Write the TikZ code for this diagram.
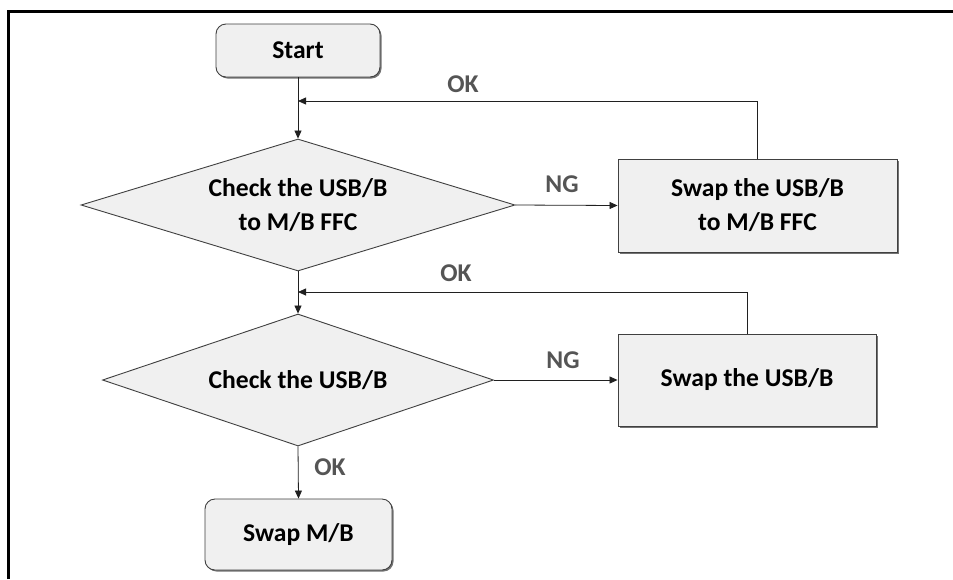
\documentclass[tikz,border=0pt]{standalone}
\usepackage{fontspec}
\setmainfont{Carlito}
\usetikzlibrary{shapes.geometric,arrows.meta,shadows}
\definecolor{boxfill}{HTML}{F0F0F0}
\definecolor{edgec}{HTML}{404040}
\definecolor{lblc}{HTML}{555555}
\definecolor{linec}{HTML}{202020}
\begin{document}
\begin{tikzpicture}[x=1pt,y=-1pt,
  base/.style={draw=edgec, line width=0.9pt, fill=boxfill, text=black,
    font=\fontsize{25.6}{34}\selectfont\bfseries, align=center, inner sep=0pt},
  shadowed/.style={drop shadow={shadow xshift=1.5pt, shadow yshift=-1.5pt, fill=black!55, opacity=1}},
  term/.style={base, rectangle, rounded corners=10pt, shadowed},
  proc/.style={base, rectangle, shadowed},
  dec/.style={base, diamond, aspect=3.3},
  conn/.style={draw=linec, line width=0.8pt, -{Triangle[length=8pt,width=7pt]}},
  lab/.style={text=lblc, font=\fontsize{25.6}{34}\selectfont\bfseries, inner sep=0pt}]
\useasboundingbox (0,0) rectangle (953,579);
\fill[white] (0,0) rectangle (953,579);
\draw[line width=3pt, line join=miter] (8.5,579) -- (8.5,11.5) -- (953,11.5);

\node[term, minimum width=164, minimum height=53] (start) at (298,50.5) {Start};
\node[dec, minimum width=434, minimum height=132] (d1) at (298,205) {Check the USB/B\\to M/B FFC};
\node[proc, minimum width=279, minimum height=93] (s1) at (757.5,205.5) {Swap the USB/B\\to M/B FFC};
\node[dec, minimum width=391, minimum height=132] (d2) at (298,380) {Check the USB/B};
\node[proc, minimum width=258, minimum height=92] (s2) at (747,380) {Swap the USB/B};
\node[term, minimum width=187, minimum height=71] (stop) at (298.5,534.5) {Swap M/B};

\coordinate (j1) at (298,101);
\coordinate (j2) at (298,292);

\draw[conn] (start.south) -- (d1.north);
\draw[conn] (d1.east) -- (s1.west);
\draw[conn] (s1.north) |- (j1);
\draw[conn] (d1.south) -- (d2.north);
\draw[conn] (d2.east) -- (s2.west);
\draw[conn] (s2.north) |- (j2);
\draw[conn] (d2.south) -- (stop.north);

\node[lab] (ok1) at (463,84) {OK};
\node[lab] (ng1) at (562,184) {NG};
\node[lab] (ok2) at (456,273) {OK};
\node[lab] (ng2) at (563,360) {NG};
\node[lab] (ok3) at (330,467) {OK};
\end{tikzpicture}
\end{document}
